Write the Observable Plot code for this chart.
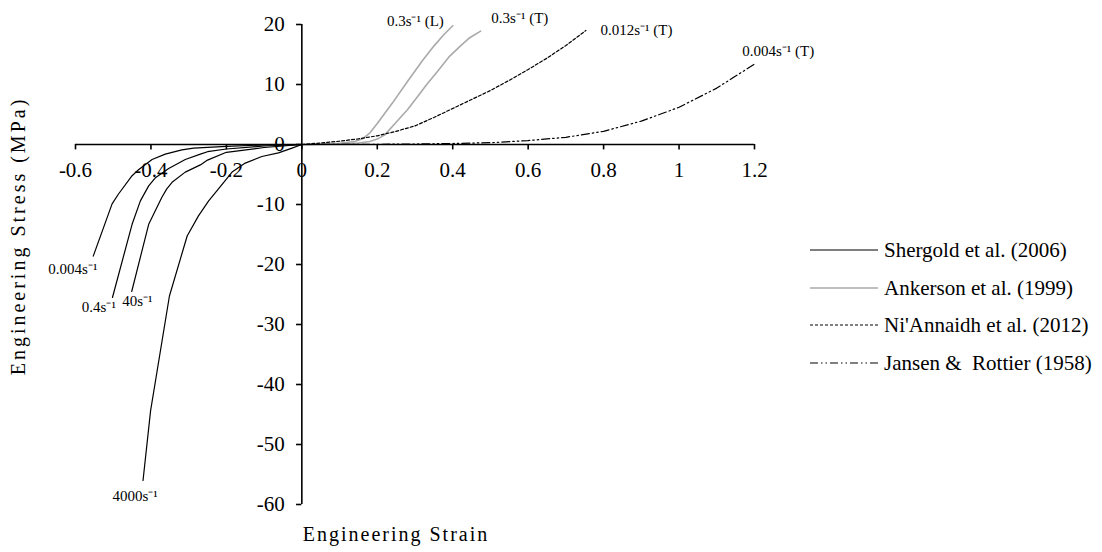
<!DOCTYPE html>
<html><head><meta charset="utf-8">
<script src="https://cdn.jsdelivr.net/npm/d3@7"></script>
<script src="https://cdn.jsdelivr.net/npm/@observablehq/plot@0.6"></script>
<style>
body{margin:0;background:#fff;}
#wrap{position:relative;width:1102px;height:552px;font-family:"Liberation Serif","Times New Roman",serif;}
.row{position:absolute;left:810px;display:flex;align-items:center;white-space:pre;font-size:21px;color:#000;line-height:24px;}
.row svg{margin-right:6px;}
</style></head><body><div id="wrap"></div>
<script>
// ---- data ----
const xTicks = [-0.6, -0.4, -0.2, 0, 0.2, 0.4, 0.6, 0.8, 1, 1.2];
const xTickLabels = ["-0.6", "-0.4", "-0.2", "0", "0.2", "0.4", "0.6", "0.8", "1", "1.2"];
const yTicks = [-60, -50, -40, -30, -20, -10, 0, 10, 20];
const yTickLabels = ["-60", "-50", "-40", "-30", "-20", "-10", "0", "10", "20"];

const seriesNames = ["Shergold et al. (2006)", "Ankerson et al. (1999)", "Ni'Annaidh et al. (2012)", "Jansen &  Rottier (1958)"];

// Shergold et al. (2006) – compression, [strain, stress MPa]
const shergold0004 = [[0,0],[-0.1,-0.08],[-0.2,-0.3],[-0.287,-0.6],[-0.318,-0.9],[-0.362,-1.6],[-0.397,-2.5],[-0.433,-4.2],[-0.45,-5.2],[-0.486,-8.25],[-0.503,-9.9],[-0.553,-18.6]];
const shergold04 = [[0,0],[-0.1,-0.25],[-0.2,-0.75],[-0.25,-1.2],[-0.269,-1.6],[-0.309,-2.5],[-0.353,-4.0],[-0.389,-5.6],[-0.406,-6.9],[-0.428,-9.4],[-0.45,-13.3],[-0.502,-25.5]];
const shergold40 = [[0,0],[-0.1,-0.5],[-0.2,-1.3],[-0.25,-2.6],[-0.269,-3.4],[-0.309,-4.6],[-0.344,-6.3],[-0.358,-7.4],[-0.371,-8.8],[-0.406,-13.3],[-0.451,-24.5]];
const shergold4000 = [[0,0],[-0.026,-0.6],[-0.062,-1.4],[-0.106,-2.0],[-0.15,-3.1],[-0.185,-4.6],[-0.221,-7.4],[-0.247,-9.4],[-0.274,-11.9],[-0.304,-15.25],[-0.351,-25.25],[-0.401,-44.4],[-0.421,-56]];
// Ankerson et al. (1999) – tension
const ankersonL = [[0,0],[0.05,0.05],[0.1,0.2],[0.14,0.5],[0.16,0.9],[0.18,1.9],[0.2,3.5],[0.24,6.9],[0.28,10.5],[0.32,14],[0.35,16.4],[0.375,18.2],[0.4,19.8]];
const ankersonT = [[0,0],[0.05,0.03],[0.1,0.1],[0.15,0.25],[0.18,0.5],[0.2,0.9],[0.22,1.6],[0.25,3.7],[0.28,5.8],[0.306,7.9],[0.33,9.9],[0.36,12.2],[0.39,14.6],[0.42,16.4],[0.445,17.8],[0.474,18.9]];
// Ni'Annaidh et al. (2012)
const niannaidh = [[0,0],[0.05,0.25],[0.1,0.55],[0.15,0.95],[0.2,1.45],[0.25,2.2],[0.3,3.1],[0.35,4.5],[0.4,6.0],[0.45,7.5],[0.5,9.0],[0.55,10.7],[0.6,12.5],[0.65,14.4],[0.7,16.5],[0.753,19]];
// Jansen & Rottier (1958)
const jansen = [[0,0],[0.1,0.01],[0.2,0.03],[0.3,0.08],[0.4,0.17],[0.5,0.3],[0.6,0.65],[0.7,1.2],[0.8,2.2],[0.9,3.9],[1.0,6.2],[1.1,9.4],[1.15,11.4],[1.2,13.4]];

const annLabels = ["0.004s⁻¹", "0.4s⁻¹", "40s⁻¹", "4000s⁻¹", "0.3s⁻¹ (L)", "0.3s⁻¹ (T)", "0.012s⁻¹ (T)", "0.004s⁻¹ (T)"];
const annX = [-0.607, -0.538, -0.436, -0.442, 0.301, 0.578, 0.887, 1.263];
const annY = [-20.75, -27.1, -26.1, -58.6, 20.6, 21, 19.1, 15.6];

// ---- build tables ----
const curves = [
  {name: "s0004", series: 0, pts: shergold0004},
  {name: "s04", series: 0, pts: shergold04},
  {name: "s40", series: 0, pts: shergold40},
  {name: "s4000", series: 0, pts: shergold4000},
  {name: "aL", series: 1, pts: ankersonL},
  {name: "aT", series: 1, pts: ankersonT},
  {name: "ni", series: 2, pts: niannaidh},
  {name: "ja", series: 3, pts: jansen}
];
const rows = curves.flatMap(c => c.pts.map(([x, y]) => ({x, y, curve: c.name, series: c.series})));
const ann = annLabels.map((t, i) => ({t, x: annX[i], y: annY[i]}));

const styles = [
  {stroke: "#000", strokeWidth: 1.2, dash: null},
  {stroke: "#aaaaaa", strokeWidth: 1.6, dash: null},
  {stroke: "#000", strokeWidth: 1.2, dash: "3,2"},
  {stroke: "#000", strokeWidth: 1.2, dash: "8,3,1.5,3,1.5,3"}
];

const font = "'Liberation Serif','Times New Roman',serif";
const lineMarks = styles.map((s, i) => Plot.line(rows.filter(r => r.series === i), {
  x: "x", y: "y", z: "curve", stroke: s.stroke, strokeWidth: s.strokeWidth,
  strokeDasharray: s.dash, curve: "linear"
}));

const chart = Plot.plot({
  width: 1102, height: 552,
  marginLeft: 75, marginRight: 348, marginTop: 24, marginBottom: 48,
  x: {domain: [-0.6, 1.2], axis: null},
  y: {domain: [-60, 20], axis: null},
  style: {fontFamily: font, background: "white", color: "black"},
  marks: [
    ...lineMarks,
    Plot.ruleY([0], {x1: -0.6, x2: 1.2, stroke: "#000", strokeWidth: 1.6}),
    Plot.ruleX([0], {y1: -60, y2: 20, stroke: "#000", strokeWidth: 1.6}),
    Plot.ruleX(xTicks, {x: d => d, y1: 0, y2: -0.9, stroke: "#000", strokeWidth: 1.6}),
    Plot.ruleY(yTicks, {y: d => d, x1: 0, x2: -0.014, stroke: "#000", strokeWidth: 1.6}),
    Plot.text(xTicks, {x: d => d, y: 0, text: (d, i) => xTickLabels[i], dy: 25.5, fontSize: 21, fill: "#000", textAnchor: "middle"}),
    Plot.text(yTicks, {x: 0, y: d => d, text: (d, i) => yTickLabels[i], dx: -17, fontSize: 21, fill: "#000", textAnchor: "end"}),
    Plot.text(ann, {x: "x", y: "y", text: "t", fontSize: 15, fill: "#000", textAnchor: "middle"})
  ]
});

const svg = d3.select(chart);
svg.append("text").attr("x", 396).attr("y", 536).attr("text-anchor", "middle").attr("dominant-baseline", "middle")
  .attr("font-size", 20).attr("letter-spacing", "2px").attr("fill", "#000").text("Engineering Strain");
svg.append("text").attr("transform", "translate(20,236) rotate(-90)").attr("text-anchor", "middle").attr("dominant-baseline", "middle")
  .attr("font-size", 20).attr("letter-spacing", "3px").attr("fill", "#000").text("Engineering Stress (MPa)");

const wrap = document.getElementById("wrap");
wrap.appendChild(chart);

// legend
seriesNames.forEach((name, i) => {
  const s = styles[i];
  const row = document.createElement("div");
  row.className = "row";
  row.style.top = (238 + i * 37.5) + "px";
  row.innerHTML = `<svg width="68" height="10"><line x1="0" x2="68" y1="5" y2="5" stroke="${s.stroke}" stroke-width="${s.strokeWidth}" ${s.dash ? `stroke-dasharray="${s.dash}"` : ""}/></svg><span></span>`;
  row.querySelector("span").textContent = name;
  wrap.appendChild(row);
});
</script>
</body></html>
